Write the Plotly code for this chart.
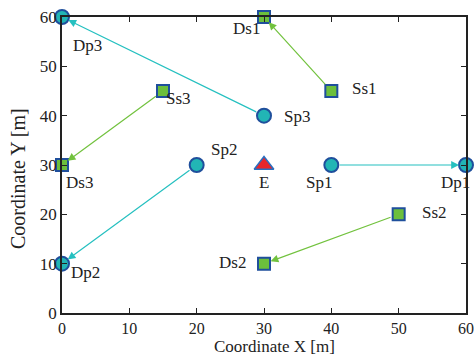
import plotly.graph_objects as go

# Secondary (square) nodes
ss_names = ["Ss1", "Ss2", "Ss3"]
ss_x = [40, 50, 15]
ss_y = [45, 20, 45]
ds_names = ["Ds1", "Ds2", "Ds3"]
ds_x = [30, 30, 0]
ds_y = [60, 10, 30]
# Primary (circle) nodes
sp_names = ["Sp1", "Sp2", "Sp3"]
sp_x = [40, 20, 30]
sp_y = [30, 30, 40]
dp_names = ["Dp1", "Dp2", "Dp3"]
dp_x = [60, 0, 0]
dp_y = [30, 10, 60]
# Eavesdropper
e_name = ["E"]
e_x = [30]
e_y = [30]

x_ticks = [0, 10, 20, 30, 40, 50, 60]
y_ticks = [0, 10, 20, 30, 40, 50, 60]
x_title = "Coordinate X [m]"
y_title = "Coordinate Y [m]"

FONT = "Liberation Serif"
CYAN = "#25c0c0"
GREEN = "#72c23e"
BLUE = "#1f4f9c"

fig = go.Figure()

anns = []
for sx, sy, dx, dy in zip(sp_x, sp_y, dp_x, dp_y):
    anns.append(dict(x=dx, y=dy, ax=sx, ay=sy, xref="x", yref="y", axref="x", ayref="y",
                     showarrow=True, arrowhead=2, arrowsize=1.3, arrowwidth=1.2,
                     arrowcolor=CYAN, standoff=7, startstandoff=7, text=""))
for sx, sy, dx, dy in zip(ss_x, ss_y, ds_x, ds_y):
    anns.append(dict(x=dx, y=dy, ax=sx, ay=sy, xref="x", yref="y", axref="x", ayref="y",
                     showarrow=True, arrowhead=2, arrowsize=1.3, arrowwidth=1.2,
                     arrowcolor=GREEN, standoff=7, startstandoff=7, text=""))

fig.add_trace(go.Scatter(x=sp_x + dp_x, y=sp_y + dp_y, mode="markers", cliponaxis=False,
                         marker=dict(symbol="circle", size=14, color="#22b5b5",
                                     line=dict(color=BLUE, width=2)), showlegend=False))
fig.add_trace(go.Scatter(x=ss_x + ds_x, y=ss_y + ds_y, mode="markers", cliponaxis=False,
                         marker=dict(symbol="square", size=12, color="#6cbf3c",
                                     line=dict(color=BLUE, width=2)), showlegend=False))
fig.add_trace(go.Scatter(x=e_x, y=e_y, mode="markers", cliponaxis=False,
                         marker=dict(symbol="triangle-up", size=17, color="#e8262a",
                                     line=dict(color="#2a6fc0", width=1.5)), showlegend=False))

label_offsets = {
    "Ss1": (33, -3), "Ss2": (36, -2), "Ss3": (15, 7),
    "Ds1": (-18, 11), "Ds2": (-32, -1), "Ds3": (17, 17),
    "Sp1": (-12, 17), "Sp2": (27, -16), "Sp3": (33, 1),
    "Dp1": (-11, 17), "Dp2": (23, 9), "Dp3": (25, 28),
    "E": (0, 17),
}
all_names = ss_names + ds_names + sp_names + dp_names + e_name
all_x = ss_x + ds_x + sp_x + dp_x + e_x
all_y = ss_y + ds_y + sp_y + dp_y + e_y
for n, x, y in zip(all_names, all_x, all_y):
    ox, oy = label_offsets[n]
    anns.append(dict(x=x, y=y, xref="x", yref="y", text=n, showarrow=False,
                     xshift=ox, yshift=-oy, font=dict(family=FONT, size=17, color="#222")))

# axis titles
anns.append(dict(x=0.525, y=-0.1486, xref="paper", yref="paper", text=x_title, showarrow=False,
                 xanchor="center", yanchor="bottom", borderpad=0,
                 font=dict(family=FONT, size=17, color="#222")))
anns.append(dict(x=-0.109, y=0.456, xref="paper", yref="paper", text=y_title, showarrow=False,
                 textangle=-90, xanchor="center", yanchor="middle",
                 font=dict(family=FONT, size=20, color="#222")))

axis_common = dict(showline=True, linecolor="#222", linewidth=1.5, mirror="ticks",
                   ticks="inside", ticklen=5, tickcolor="#222", showgrid=False, zeroline=False,
                   automargin=False, ticklabeloverflow="allow")
fig.update_layout(
    width=474, height=357,
    margin=dict(l=62, r=8, t=17, b=44),
    plot_bgcolor="white", paper_bgcolor="white",
    annotations=anns,
    xaxis=dict(range=[0, 60], tickvals=x_ticks, tickfont=dict(family=FONT, size=16, color="#222"),
               **axis_common),
    yaxis=dict(range=[0, 60], tickvals=y_ticks, tickfont=dict(family=FONT, size=17, color="#222"),
               **axis_common),
)
fig.write_html("out.html")
